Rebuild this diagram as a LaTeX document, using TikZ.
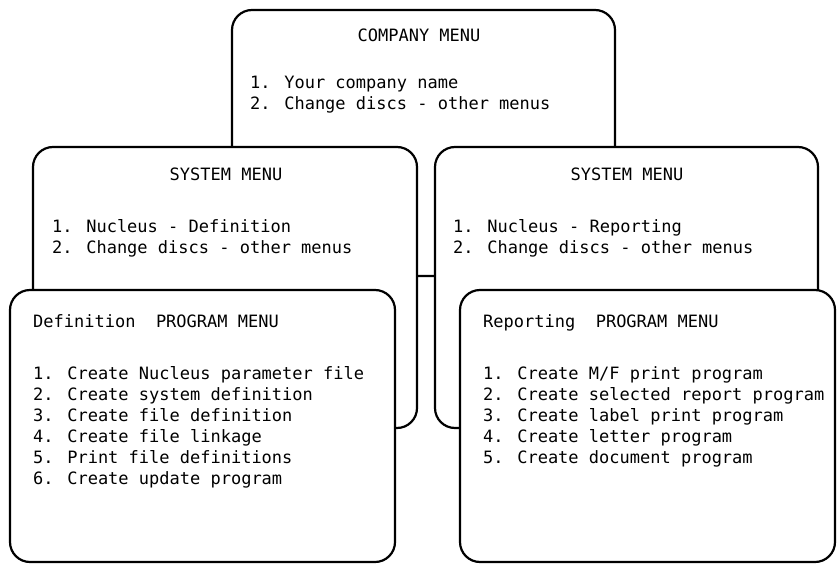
\documentclass[tikz,border=0pt]{standalone}
\usepackage{fontspec}
\newfontfamily\menufont{DejaVu Sans Mono}
\begin{document}
\begin{tikzpicture}[x=1pt,y=-1pt,
  box/.style={draw, line width=2.2pt, rounded corners=20pt, fill=white, inner sep=0pt},
  txt/.style={anchor=base west, inner sep=0pt, font=\menufont\fontsize{17}{21}\selectfont},
  ttl/.style={anchor=base, inner sep=0pt, font=\menufont\fontsize{17}{21}\selectfont}]
\useasboundingbox (0,0) rectangle (837,567);
% company
\node[box, minimum width=383pt, minimum height=266pt] (company) at (423.5,143) {};
\node[ttl] (ct) at (419,42) {COMPANY MENU};
\node[txt] (c1) at (250,89) {1. Your company name};
\node[txt] (c2) at (250,110) {2. Change discs - other menus};
% system menus
\node[box, minimum width=384pt, minimum height=281pt] (sysl) at (225,287.5) {};
\node[ttl] (slt) at (226,180) {SYSTEM MENU};
\node[txt] (sl1) at (52,232) {1. Nucleus - Definition};
\node[txt] (sl2) at (52,253) {2. Change discs - other menus};
\node[box, minimum width=383pt, minimum height=281pt] (sysr) at (626.5,287.5) {};
\node[ttl] (srt) at (627,180) {SYSTEM MENU};
\node[txt] (sr1) at (453,232) {1. Nucleus - Reporting};
\node[txt] (sr2) at (453,253) {2. Change discs - other menus};
% program menus
\node[box, minimum width=385pt, minimum height=272pt] (def) at (202.5,426) {};
\node[txt] (dt) at (33,327) {Definition\ \ PROGRAM MENU};
\node[txt] (d1) at (33,379) {1. Create Nucleus parameter file};
\node[txt] (d2) at (33,400) {2. Create system definition};
\node[txt] (d3) at (33,421.5) {3. Create file definition};
\node[txt] (d4) at (33,442.5) {4. Create file linkage};
\node[txt] (d5) at (33,463.5) {5. Print file definitions};
\node[txt] (d6) at (33,484.5) {6. Create update program};
\node[box, minimum width=375pt, minimum height=272pt] (rep) at (647.5,426) {};
\node[txt] (rt) at (483,327) {Reporting\ \ PROGRAM MENU};
\node[txt] (r1) at (483,379) {1. Create M/F print program};
\node[txt] (r2) at (483,400) {2. Create selected report program};
\node[txt] (r3) at (483,421.5) {3. Create label print program};
\node[txt] (r4) at (483,442.5) {4. Create letter program};
\node[txt] (r5) at (483,463.5) {5. Create document program};
\end{tikzpicture}
\end{document}
